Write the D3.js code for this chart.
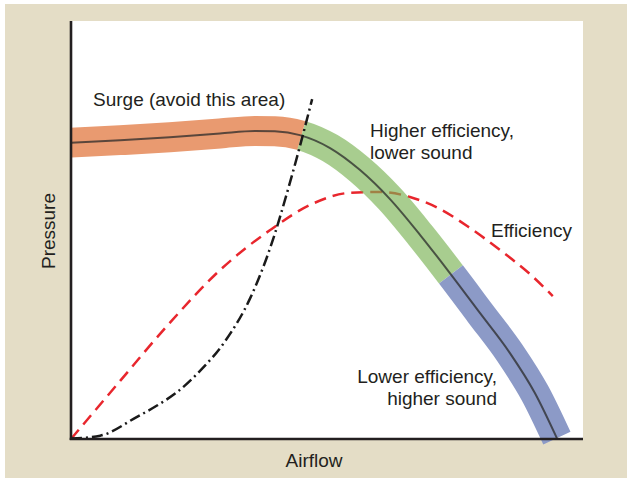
<!DOCTYPE html>
<html>
<head>
<meta charset="utf-8">
<script src="https://cdn.jsdelivr.net/npm/d3@7/dist/d3.min.js"></script>
<style>
  html, body { margin: 0; padding: 0; background: #ffffff; }
  svg { display: block; }
  text { font-family: "Liberation Sans", Arial, Helvetica, sans-serif; fill: #231f20; }
</style>
</head>
<body>
<svg id="chart" width="627" height="478"></svg>
<script>
// ---- Data (arbitrary units: airflow 0-100, pressure 0-100) ----
const pressureAirflow = [0, 9.6, 19.3, 29.1, 35.9, 39.8, 44.7, 50.6, 56.4, 62.3, 68.2, 74.0, 79.9, 85.7, 90.6, 94.9];
const pressureValues  = [70.9, 71.5, 72.2, 73.1, 73.7, 73.6, 72.7, 69.6, 64.4, 57.4, 48.8, 39.7, 30.1, 20.6, 11.0, 0.2];

const efficiencyAirflow = [0, 9.6, 19.3, 29.1, 38.9, 46.7, 54.5, 60.4, 66.2, 72.1, 77.9, 83.8, 89.6, 94.1];
const efficiencyValues  = [0, 13.9, 27.8, 40.4, 50.0, 56.0, 58.9, 59.1, 57.9, 55.0, 50.5, 45.2, 39.5, 34.2];

const surgeAirflow = [0, 5.7, 12.9, 16.8, 20.7, 25.2, 30.1, 35.0, 38.9, 42.8, 47.1];
const surgeValues  = [0.1, 0.8, 5.3, 8.0, 11.2, 16.3, 23.4, 33.7, 45.7, 61.5, 81.3];

// band zones (airflow values where colour changes)
const zoneBreaks = [45.0, 74.2];
const zoneColors = ["#e99a70", "#7ab253", "#8c9ac7"];
const zoneOpacity = [1, 0.65, 1];

const axisTitles = { x: "Airflow", y: "Pressure" };

// ---- Layout ----
const svg = d3.select("#chart");
const W = 627, H = 478;
const plot = { left: 71, right: 583, top: 21, bottom: 439 };

const x = d3.scaleLinear().domain([0, 100]).range([plot.left, plot.right]);
const y = d3.scaleLinear().domain([0, 100]).range([plot.bottom, plot.top]);

// background
svg.append("rect").attr("x", 5).attr("y", 4).attr("width", W - 5).attr("height", H - 4).attr("fill", "#e4ddc6");
svg.append("rect").attr("x", plot.left).attr("y", plot.top)
   .attr("width", plot.right - plot.left).attr("height", plot.bottom - plot.top + 1).attr("fill", "#ffffff");

const zip = (xs, ys) => xs.map((v, i) => [v, ys[i]]);
const line = d3.line().x(d => x(d[0])).y(d => y(d[1])).curve(d3.curveMonotoneX);

// efficiency (red dashed) - under the band so green tints it
svg.append("path").attr("d", line(zip(efficiencyAirflow, efficiencyValues)))
   .attr("fill", "none").attr("stroke", "#e8262d").attr("stroke-width", 2.5)
   .attr("stroke-dasharray", "12,7");

// pressure band
const pData = zip(pressureAirflow, pressureValues);
const pD = line(pData);
const measure = svg.append("path").attr("d", pD).attr("fill", "none").attr("stroke", "none");
const node = measure.node();
const L = node.getTotalLength();
function lengthAtX(px) {
  let lo = 0, hi = L;
  for (let i = 0; i < 40; i++) {
    const mid = (lo + hi) / 2;
    if (node.getPointAtLength(mid).x < px) lo = mid; else hi = mid;
  }
  return (lo + hi) / 2;
}
const cuts = [0, ...zoneBreaks.map(b => lengthAtX(x(b))), L];
measure.remove();

zoneColors.forEach((c, i) => {
  const a = cuts[i], b = cuts[i + 1];
  svg.append("path").attr("d", pD).attr("fill", "none")
     .attr("stroke", c).attr("stroke-opacity", zoneOpacity[i])
     .attr("stroke-width", 30).attr("stroke-linecap", "butt")
     .attr("stroke-dasharray", `0 ${a} ${b - a} ${L * 2}`);
});
// center line
svg.append("path").attr("d", pD).attr("fill", "none")
   .attr("stroke", "#2a2a2a").attr("stroke-opacity", 0.75).attr("stroke-width", 2);

// surge line (dash-dot)
svg.append("path").attr("d", line(zip(surgeAirflow, surgeValues)))
   .attr("fill", "none").attr("stroke", "#1a1a1a").attr("stroke-width", 2.5)
   .attr("stroke-dasharray", "11,4,2,4");

// axes (lines only, no ticks)
svg.append("line").attr("x1", x(0)).attr("x2", x(0)).attr("y1", plot.top).attr("y2", plot.bottom + 1)
   .attr("stroke", "#231f20").attr("stroke-width", 2.6);
svg.append("line").attr("x1", x(0) - 1.3).attr("x2", plot.right).attr("y1", y(0)).attr("y2", y(0))
   .attr("stroke", "#231f20").attr("stroke-width", 2.6);

// axis titles
svg.append("text").attr("x", (plot.left + plot.right) / 2 - 13).attr("y", 467)
   .attr("text-anchor", "middle").attr("font-size", 19).text(axisTitles.x);
svg.append("text").attr("transform", `translate(55,231) rotate(-90)`)
   .attr("text-anchor", "middle").attr("font-size", 19).text(axisTitles.y);

// annotations
const fs = 19;
svg.append("text").attr("x", 93).attr("y", 106).attr("font-size", fs).text("Surge (avoid this area)");
svg.append("text").attr("x", 370).attr("y", 137).attr("font-size", fs).text("Higher efficiency,");
svg.append("text").attr("x", 370).attr("y", 159).attr("font-size", fs).text("lower sound");
svg.append("text").attr("x", 491).attr("y", 237).attr("font-size", fs).text("Efficiency");
svg.append("text").attr("x", 497).attr("y", 383).attr("text-anchor", "end").attr("font-size", fs).text("Lower efficiency,");
svg.append("text").attr("x", 497).attr("y", 405).attr("text-anchor", "end").attr("font-size", fs).text("higher sound");
</script>
</body>
</html>
